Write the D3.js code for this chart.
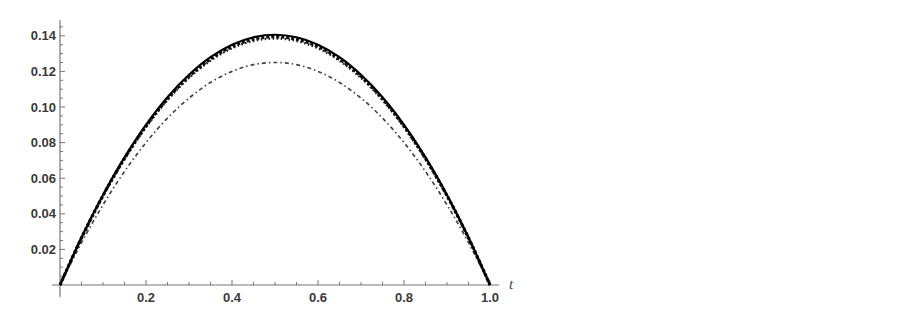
<!DOCTYPE html>
<html><head><meta charset="utf-8">
<script src="https://cdn.jsdelivr.net/npm/d3@7"></script>
<style>body{margin:0;background:#fff}svg{display:block}</style>
</head><body>
<svg id="c" width="916" height="314"></svg>
<script>
const tValues = [0,0.05,0.1,0.15,0.2,0.25,0.3,0.35,0.4,0.45,0.5,0.55,0.6,0.65,0.7,0.75,0.8,0.85,0.9,0.95,1];
const solidVals   = [0,0.0267,0.0506,0.0717,0.0900,0.1055,0.1181,0.1280,0.1350,0.1392,0.1406,0.1392,0.1350,0.1280,0.1181,0.1055,0.0900,0.0717,0.0506,0.0267,0];
const dashedVals  = [0,0.0265,0.0502,0.0711,0.0893,0.1046,0.1172,0.1269,0.1339,0.1381,0.1395,0.1381,0.1339,0.1269,0.1172,0.1046,0.0893,0.0711,0.0502,0.0265,0];
const dottedVals  = [0,0.0263,0.0499,0.0706,0.0886,0.1039,0.1163,0.1260,0.1330,0.1371,0.1385,0.1371,0.1330,0.1260,0.1163,0.1039,0.0886,0.0706,0.0499,0.0263,0];
const dashDotVals = [0,0.0238,0.0450,0.0638,0.0800,0.0938,0.1050,0.1138,0.1200,0.1238,0.1250,0.1238,0.1200,0.1138,0.1050,0.0938,0.0800,0.0638,0.0450,0.0238,0];
const xTickLabels = [0.2,0.4,0.6,0.8,1.0];
const yTickLabels = [0.02,0.04,0.06,0.08,0.10,0.12,0.14];
const axisLabel = "t";

const svg = d3.select("#c");
const x = d3.scaleLinear().domain([0,1]).range([60,490]);
const y = d3.scaleLinear().domain([0,0.14]).range([285,35.8]);

const axisColor = "#777";
const g = svg.append("g");
g.append("line").attr("x1",x(-0.019)).attr("x2",x(1.021)).attr("y1",y(0)).attr("y2",y(0))
  .attr("stroke",axisColor).attr("stroke-width",1.2);
g.append("line").attr("x1",x(0)).attr("x2",x(0)).attr("y1",y(-0.0068)).attr("y2",y(0.1488))
  .attr("stroke",axisColor).attr("stroke-width",1.2);

const xMinor = d3.range(0.05,1.001,0.05);
g.selectAll(".xt").data(xMinor).enter().append("line")
  .attr("x1",d=>x(d)).attr("x2",d=>x(d)).attr("y1",y(0))
  .attr("y2",d=>y(0)-(Math.round(d*100)%20===0 ? 5 : 3))
  .attr("stroke",axisColor).attr("stroke-width",1);
g.selectAll(".xl").data(xTickLabels).enter().append("text")
  .attr("x",d=>x(d)).attr("y",y(0)+17).attr("text-anchor","middle")
  .attr("font-family","Liberation Sans, Arial, sans-serif").attr("font-weight","bold")
  .attr("font-size",13).attr("fill","#3a3a3a").text(d=>d.toFixed(1));

const yMinor = d3.range(0.005,0.1451,0.005);
g.selectAll(".yt").data(yMinor).enter().append("line")
  .attr("y1",d=>y(d)).attr("y2",d=>y(d)).attr("x1",x(0))
  .attr("x2",d=>x(0)+(Math.round(d*1000)%20===0 ? 5 : 3))
  .attr("stroke",axisColor).attr("stroke-width",1);
g.selectAll(".yl").data(yTickLabels).enter().append("text")
  .attr("x",x(0)-4).attr("y",d=>y(d)+4.5).attr("text-anchor","end")
  .attr("font-family","Liberation Sans, Arial, sans-serif").attr("font-weight","bold")
  .attr("font-size",13).attr("fill","#3a3a3a").text(d=>d.toFixed(2));

g.append("text").attr("x",509).attr("y",y(0)+4).attr("font-family","Liberation Serif, Times New Roman, serif")
  .attr("font-style","italic").attr("font-size",15).attr("fill","#444").text(axisLabel);

const line = d3.line().x((d,i)=>x(tValues[i])).y(d=>y(d)).curve(d3.curveCatmullRom);
const series = [
  {vals:dashDotVals, w:1.7, dash:"4,3,1.5,3", col:"#444"},
  {vals:dottedVals, w:2.4, dash:"1.5,2.5", col:"#222"},
  {vals:dashedVals, w:3.2, dash:"3,2", col:"#111"},
  {vals:solidVals, w:2.2, dash:null, col:"#000"}
];
series.forEach(s=>{
  svg.append("path").attr("d",line(s.vals)).attr("fill","none")
    .attr("stroke",s.col).attr("stroke-width",s.w)
    .attr("stroke-dasharray",s.dash);
});
</script>
</body></html>
